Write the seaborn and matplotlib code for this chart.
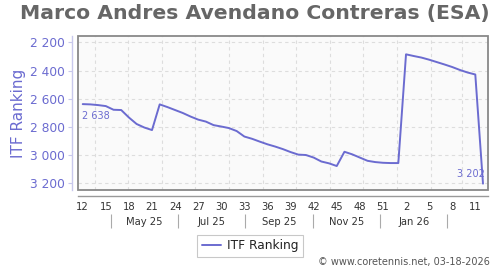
import matplotlib
matplotlib.use("Agg")
import matplotlib.pyplot as plt
import matplotlib.patches as mpatches
import seaborn as sns
import pandas as pd

title = "Marco Andres Avendano Contreras (ESA)"
start_date = "2025-03-21"
ranking = [2638, 2640, 2645, 2652, 2678, 2680, 2733, 2779, 2804, 2822,
           2640, 2659, 2680, 2701, 2726, 2748, 2762, 2787, 2797, 2808,
           2829, 2868, 2884, 2904, 2923, 2939, 2957, 2978, 2996, 2999,
           3017, 3045, 3058, 3077, 2976, 2994, 3017, 3040, 3049, 3054,
           3056, 3056, 2285, 2297, 2308, 2323, 2340, 2357, 2375, 2396,
           2414, 2428, 3202]
y_ticks = [2200, 2400, 2600, 2800, 3000, 3200]
month_labels = ["May 25", "Jul 25", "Sep 25", "Nov 25", "Jan 26"]
month_label_dates = ["2025-05-16", "2025-07-16", "2025-09-16", "2025-11-16", "2026-01-16"]
month_divider_dates = ["2025-04-16", "2025-06-16", "2025-08-16", "2025-10-16", "2025-12-16", "2026-02-15"]

dates = pd.date_range(start_date, periods=len(ranking), freq="7D")
df = pd.DataFrame({"date": dates, "ITF Ranking": ranking})

sns.set_theme(style="white")
plt.rcParams['font.family'] = ['DejaVu Sans']

LINE = "#6b6bd0"
fig = plt.figure(figsize=(5, 2.7), dpi=100)
ax = fig.add_axes([0.156, 0.2963, 0.819, 0.5704])
ax.set_facecolor("#fafafa")

sns.lineplot(data=df, x="date", y="ITF Ranking", ax=ax, color=LINE, lw=1.4,
             label="ITF Ranking")

x0 = dates[0] - pd.Timedelta(days=4.3)
x1 = dates[-1] + pd.Timedelta(days=4.1)
ax.set_xlim(x0, x1)
ax.set_ylim(3247, 2155)

# grids
ax.set_yticks(y_ticks)
ax.set_yticklabels([f"{v:,}".replace(",", " ") for v in y_ticks])
for yv in y_ticks:
    ax.axhline(yv, color="#dddddd", lw=0.8, ls=(0, (3, 3)), zorder=0)
for m in pd.date_range("2025-04-01", "2026-03-01", freq="MS"):
    ax.axvline(m, color="#dddddd", lw=0.8, ls=(0, (3, 3)), zorder=0)

# frame
ax.add_patch(mpatches.Rectangle((0, 0), 1, 1, transform=ax.transAxes, fill=False,
                                edgecolor="#888888", lw=1.3, clip_on=False, zorder=5))
for s in ["top", "right"]:
    ax.spines[s].set_visible(False)
ax.spines["left"].set_position(("outward", 4))
ax.spines["left"].set_color("#c8c8ec")
ax.spines["left"].set_linewidth(1.0)
ax.spines["bottom"].set_position(("outward", 4))
ax.spines["bottom"].set_color("#999999")
ax.spines["bottom"].set_linewidth(1.0)

ax.tick_params(axis="y", colors="#c8c8ec", labelcolor=LINE, labelsize=8.8, length=3,
               width=0.8, pad=2.5, direction="out", left=True)
ax.set_ylabel("ITF Ranking", color=LINE, fontsize=11, labelpad=3)
ax.set_xlabel("")

# week ticks: dividers as major, labels as minor
week_idx = list(range(0, len(dates), 3))
week_label_dates = [dates[i] for i in week_idx]
week_labels = [str(d.isocalendar()[1]) for d in week_label_dates]
divider_dates = [dates[i] + pd.Timedelta(days=10.5) for i in week_idx[:-1]]
ax.set_xticks(divider_dates)
ax.set_xticklabels([""] * len(divider_dates))
ax.set_xticks(week_label_dates, minor=True)
ax.set_xticklabels(week_labels, minor=True)
ax.tick_params(axis="x", which="major", length=10, width=0.8, color="#aaaaaa", direction="out")
ax.tick_params(axis="x", which="minor", length=0, labelsize=7.2, labelcolor="#333333", pad=4.5)

# month row
sec = ax.secondary_xaxis(-0.155)
sec.spines["bottom"].set_visible(False)
sec.set_xticks(pd.to_datetime(month_divider_dates))
sec.set_xticklabels([""] * len(month_divider_dates))
sec.set_xticks(pd.to_datetime(month_label_dates), minor=True)
sec.set_xticklabels(month_labels, minor=True)
sec.tick_params(axis="x", which="major", length=10, width=0.8, color="#aaaaaa", direction="out")
sec.tick_params(axis="x", which="minor", length=0, labelsize=7.2, labelcolor="#333333", pad=2.5)

# point annotations
ax.annotate(f"{ranking[0]:,}".replace(",", " "), (dates[0], ranking[0]),
            xytext=(-0.5, -5), textcoords="offset points", ha="left", va="top",
            color=LINE, fontsize=7)
ax.annotate(f"{ranking[-1]:,}".replace(",", " "), (dates[-1], ranking[-1]),
            xytext=(1, 3), textcoords="offset points", ha="right", va="bottom",
            color=LINE, fontsize=7)

leg = ax.legend(loc="center", bbox_to_anchor=(0.5, 24 / 270), bbox_transform=fig.transFigure,
                frameon=True, fancybox=False, fontsize=8.7, handlelength=1.6,
                borderpad=0.35, handletextpad=0.5)
leg.get_frame().set_edgecolor("#bbbbbb")
leg.get_frame().set_linewidth(0.8)
for t in leg.get_texts():
    t.set_color("#222222")

fig.text(0.51, 1 - 14 / 270, title, ha="center", va="center", fontsize=14.7,
         fontweight="bold", color="#666666")
fig.text(0.98, 1 - 262 / 270, "© www.coretennis.net, 03-18-2026", ha="right", va="center",
         fontsize=7, color="#555555")

fig.savefig("out.png", dpi=100)
